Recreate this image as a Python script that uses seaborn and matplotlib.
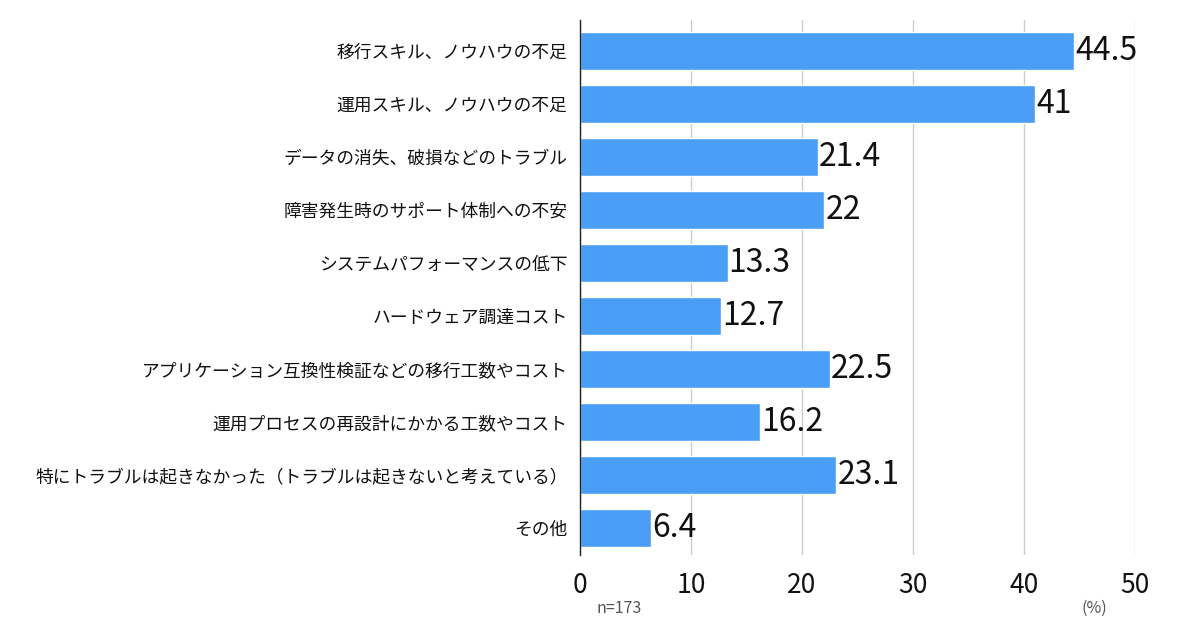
import matplotlib
matplotlib.use('Agg')
import matplotlib.pyplot as plt
import seaborn as sns
import pandas as pd

# 項目と回答率(%)
labels = [
    '移行スキル、ノウハウの不足',
    '運用スキル、ノウハウの不足',
    'データの消失、破損などのトラブル',
    '障害発生時のサポート体制への不安',
    'システムパフォーマンスの低下',
    'ハードウェア調達コスト',
    'アプリケーション互換性検証などの移行工数やコスト',
    '運用プロセスの再設計にかかる工数やコスト',
    '特にトラブルは起きなかった（トラブルは起きないと考えている）',
    'その他',
]
values = [44.5, 41, 21.4, 22, 13.3, 12.7, 22.5, 16.2, 23.1, 6.4]
value_texts = ['44.5', '41', '21.4', '22', '13.3', '12.7', '22.5', '16.2', '23.1', '6.4']
x_ticks = [0, 10, 20, 30, 40, 50]

df = pd.DataFrame({'label': labels, 'value': values})

sns.set_theme(style='white')
plt.rcParams['font.family'] = ['Noto Sans CJK JP', 'DejaVu Sans']

fig = plt.figure(figsize=(12, 6.34), dpi=100)
ax = fig.add_axes([0.4833, 0.1246, 0.4625, 0.8439])

sns.barplot(data=df, x='value', y='label', color='#4a9ef5', saturation=1,
            width=0.7, ax=ax, zorder=3)

ax.set_xlim(0, 50)
ax.set_ylim(9.51, -0.585)
ax.set_xticks(x_ticks)
ax.set_xticklabels([str(t) for t in x_ticks], fontsize=19)
ax.tick_params(axis='y', labelsize=12.8, length=0, pad=9, labelcolor='#111111')
ax.tick_params(axis='x', length=0, pad=12, labelcolor='#111111')
ax.set_xlabel('')
ax.set_ylabel('')
ax.grid(axis='x', color='#cccccc', linewidth=1, zorder=0)

for s in ['top', 'right', 'bottom']:
    ax.spines[s].set_visible(False)
ax.spines['left'].set_color('#222222')
ax.spines['left'].set_linewidth(1)
ax.spines['left'].set_zorder(4)

for i, (v, t) in enumerate(zip(values, value_texts)):
    ax.text(v + 0.1, i, t, va='center', ha='left', fontsize=23, color='#111111', zorder=5)

fig.text(0.497, 0.040, 'n=173', fontsize=11.5, color='#555555', ha='left', va='center')
fig.text(0.912, 0.040, '(%)', fontsize=11.5, color='#555555', ha='center', va='center')

fig.savefig('out.png', dpi=100)
